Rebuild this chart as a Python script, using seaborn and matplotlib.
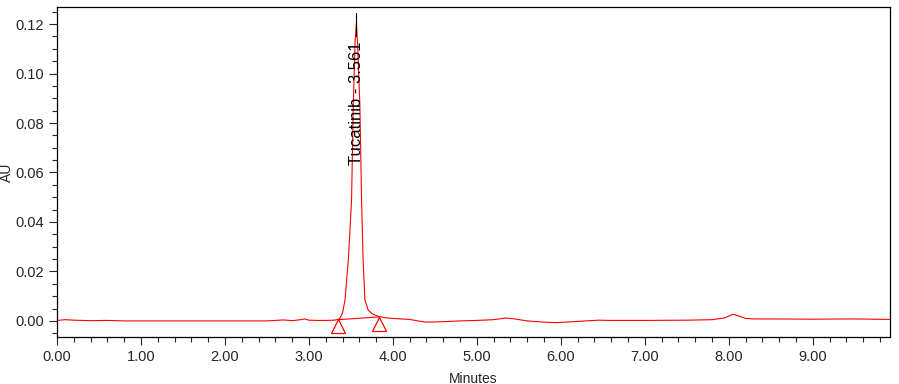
import numpy as np
import pandas as pd
import matplotlib
matplotlib.use("Agg")
import matplotlib.pyplot as plt
from matplotlib.ticker import MultipleLocator, FormatStrFormatter
import seaborn as sns

# chromatogram trace (minutes, AU)
times = [0.00, 0.10, 0.20, 0.40, 0.60, 0.80, 1.00, 1.50, 2.00, 2.50, 2.60, 2.70,
         2.80, 2.90, 2.95, 3.00, 3.10, 3.20, 3.30, 3.35, 3.37, 3.40, 3.43, 3.47,
         3.508, 3.528, 3.55, 3.565, 3.58, 3.607, 3.627, 3.645, 3.667, 3.706, 3.75,
         3.786, 3.83, 3.90, 4.00, 4.20, 4.30, 4.40, 4.60, 4.80, 5.00, 5.20, 5.35,
         5.45, 5.60, 5.80, 5.95, 6.10, 6.30, 6.45, 6.60, 7.00, 7.50, 7.80, 7.95,
         8.05, 8.12, 8.20, 8.30, 8.50, 9.00, 9.50, 9.92]
signal = [0.0002, 0.0005, 0.0003, 0.0001, 0.0002, 0.0, 0.0, 0.0, 0.0, 0.0, 0.0002, 0.0004,
          0.0001, 0.0005, 0.0008, 0.0003, 0.0002, 0.0002, 0.0003, 0.0006, 0.0011, 0.0032, 0.0085, 0.025,
          0.049, 0.087, 0.113, 0.1203, 0.112, 0.087, 0.049, 0.025, 0.0085, 0.0044, 0.003,
          0.0024, 0.0018, 0.0013, 0.001, 0.0006, 0.0, -0.0005, -0.0003, 0.0, 0.0002, 0.0005, 0.0012,
          0.0008, 0.0, -0.0005, -0.0007, -0.0004, 0.0, 0.0003, 0.0002, 0.0002, 0.0003, 0.0005, 0.0012,
          0.0027, 0.002, 0.001, 0.0008, 0.0008, 0.0007, 0.0008, 0.0006]

# integration baseline (peak start / end) and the tick marks under them
base_t = [3.35, 3.83]
base_au = [0.0005, 0.0016]
marker_au = [-0.0020, -0.0011]

peak_name = "Tucatinib"
peak_rt = 3.561
peak_top = 0.1243

df = pd.DataFrame({"Minutes": times, "AU": signal})

sns.set_style("ticks")
plt.rcParams["font.family"] = ["Liberation Sans", "DejaVu Sans"]

fig = plt.figure(figsize=(8.99, 3.84), dpi=100)
ax = fig.add_axes([0.0634, 0.1224, 0.9266, 0.8594])

sns.lineplot(data=df, x="Minutes", y="AU", color="red", linewidth=0.8, ax=ax,
             sort=False, estimator=None)
ax.plot(base_t, base_au, color="red", linewidth=0.8)
ax.plot(base_t, marker_au, linestyle="none", marker="^", markersize=9.4,
        markerfacecolor="none", markeredgecolor="red", markeredgewidth=0.9)
ax.plot([peak_rt, peak_rt], [0.115, peak_top], color="black", linewidth=0.8)
ax.text(peak_rt, 0.063, f"{peak_name} - {peak_rt:.3f}", rotation=90,
        ha="center", va="bottom", fontsize=12, color="black")

ax.set_xlim(0, 9.92)
ax.set_ylim(-0.0065, 0.1269)
ax.xaxis.set_major_locator(MultipleLocator(1.0))
ax.xaxis.set_minor_locator(MultipleLocator(0.2))
ax.xaxis.set_major_formatter(FormatStrFormatter("%.2f"))
ax.yaxis.set_major_locator(MultipleLocator(0.02))
ax.yaxis.set_minor_locator(MultipleLocator(0.005))
ax.yaxis.set_major_formatter(FormatStrFormatter("%.2f"))
ax.tick_params(axis="both", which="major", length=6, width=0.8, labelsize=10.5, direction="out")
ax.tick_params(axis="both", which="minor", length=3.5, width=0.8, direction="out")
for s in ax.spines.values():
    s.set_visible(True)
    s.set_linewidth(0.9)
    s.set_color("black")

ax.set_xlabel("Minutes", fontsize=10)
ax.set_ylabel("AU", fontsize=10)
ax.yaxis.set_label_coords(-0.052, 0.5)
ax.xaxis.set_label_coords(0.5, -0.105)

fig.savefig("out.png", dpi=100)
